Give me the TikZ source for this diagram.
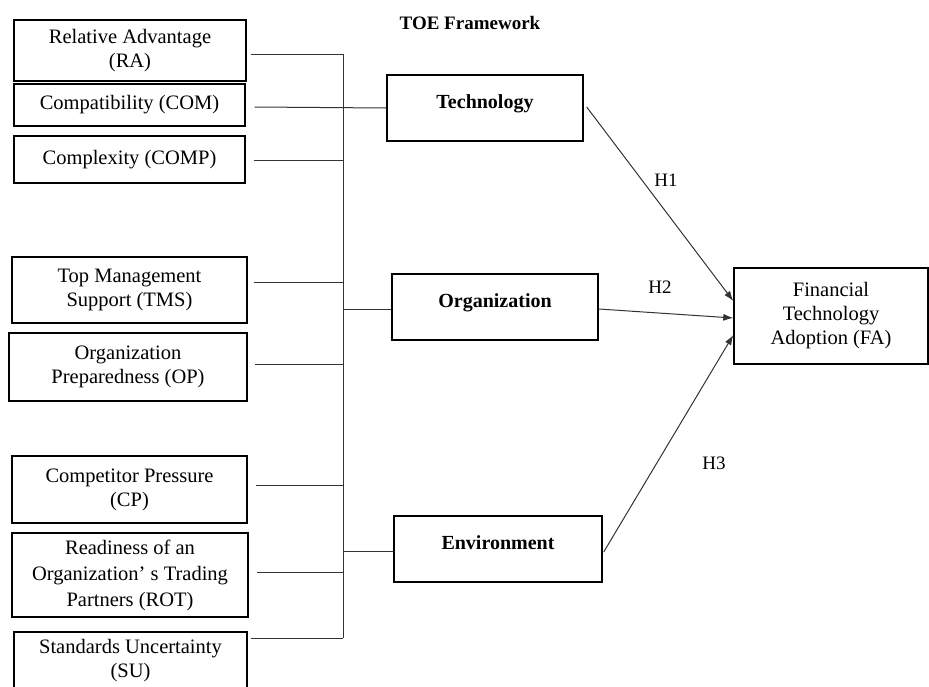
\documentclass[tikz,border=0pt]{standalone}
\usepackage{fontspec}
\setmainfont{Liberation Serif}
\usetikzlibrary{arrows.meta}
\begin{document}
\begin{tikzpicture}[x=1pt,y=-1pt,
  box/.style={draw=black, line width=1.4pt, inner sep=0pt, align=center,
    font=\fontsize{20.5}{24}\selectfont},
  cbox/.style={draw=black, line width=1.4pt, inner sep=0pt,
    font=\bfseries\fontsize{20}{24}\selectfont, text height=14pt, text depth=14pt,
    minimum height=66pt},
  conn/.style={draw=black!80, line width=1pt},
  arr/.style={conn, -{Latex[length=10pt,width=7pt]}},
  lbl/.style={font=\fontsize{19}{22}\selectfont, inner sep=0pt}]
\useasboundingbox (0,0) rectangle (929,686);
\clip (0,0) rectangle (929,686);

% title
\node[lbl, font=\bfseries\fontsize{19}{22}\selectfont] (title) at (470,23) {TOE Framework};

% left factor boxes
\node[box, minimum width=232pt, minimum height=61pt] (ra)   at (130,50.5)  {Relative Advantage\\(RA)};
\node[box, minimum width=231pt, minimum height=42pt] (com)  at (129.5,105) {Compatibility (COM)};
\node[box, minimum width=231pt, minimum height=47pt] (comp) at (129.5,159.5) {Complexity (COMP)};
\node[box, minimum width=235pt, minimum height=66pt] (tms)  at (129.5,290) {Top Management\\Support (TMS)};
\node[box, minimum width=238pt, minimum height=68pt] (op)   at (128,367)   {Organization\\Preparedness (OP)};
\node[box, minimum width=235pt, minimum height=67pt] (cp)   at (129.5,489.5) {Competitor Pressure\\(CP)};
\node[box, minimum width=236pt, minimum height=84pt, font=\fontsize{20.5}{26}\selectfont] (rot) at (130,575)
  {Readiness of an\\Organization’ s Trading\\Partners (ROT)};
\node[box, minimum width=233pt, minimum height=58pt] (su)   at (130.5,661) {Standards Uncertainty\\(SU)};

% TOE construct boxes
\node[cbox, minimum width=196pt] (tech) at (485,108) {Technology};
\node[cbox, minimum width=206pt] (org)  at (495,307) {Organization};
\node[cbox, minimum width=208pt] (env)  at (498,549) {Environment};

% outcome
\node[box, minimum width=194pt, minimum height=96pt] (fa) at (831,316)
  {Financial\\Technology\\Adoption (FA)};

% hypothesis labels
\node[lbl] (h1) at (666,180) {H1};
\node[lbl] (h2) at (660,287) {H2};
\node[lbl] (h3) at (714,463) {H3};

% spine and line starts
\coordinate (spine) at (343,0);
\coordinate (raE)   at ([shift={(4,3.5)}]ra.east);
\coordinate (comE)  at ([shift={(9,2)}]com.east);
\coordinate (compE) at ([shift={(8,0.5)}]comp.east);
\coordinate (tmsE)  at ([shift={(6,-8)}]tms.east);
\coordinate (opE)   at ([shift={(7,-3)}]op.east);
\coordinate (cpE)   at ([shift={(8,-4.5)}]cp.east);
\coordinate (rotE)  at ([shift={(8,-3)}]rot.east);
\coordinate (suE)   at ([shift={(3,-23)}]su.east);

\draw[conn] (raE -| spine) -- (suE -| spine);
\draw[conn] (raE) -- (raE -| spine);
\draw[conn] (comE) -- (tech.west);
\draw[conn] (compE) -- (compE -| spine);
\draw[conn] (tmsE) -- (tmsE -| spine);
\draw[conn] (opE) -- (opE -| spine);
\draw[conn] (cpE) -- (cpE -| spine);
\draw[conn] (rotE) -- (rotE -| spine);
\draw[conn] (suE) -- (suE -| spine);

\coordinate (orgW) at ([shift={(0,2)}]org.west);
\coordinate (envW) at ([shift={(0,2)}]env.west);
\draw[conn] (orgW -| spine) -- (orgW);
\draw[conn] (envW -| spine) -- (envW);

% hypothesis arrows
\draw[arr] ([shift={(3,-1)}]tech.east) -- ([shift={(0,-15)}]fa.west);
\draw[arr] ([shift={(0,2)}]org.east) -- ([shift={(0,2)}]fa.west);
\draw[arr] ([shift={(1,3)}]env.east) -- ([shift={(0,19)}]fa.west);
\end{tikzpicture}
\end{document}
